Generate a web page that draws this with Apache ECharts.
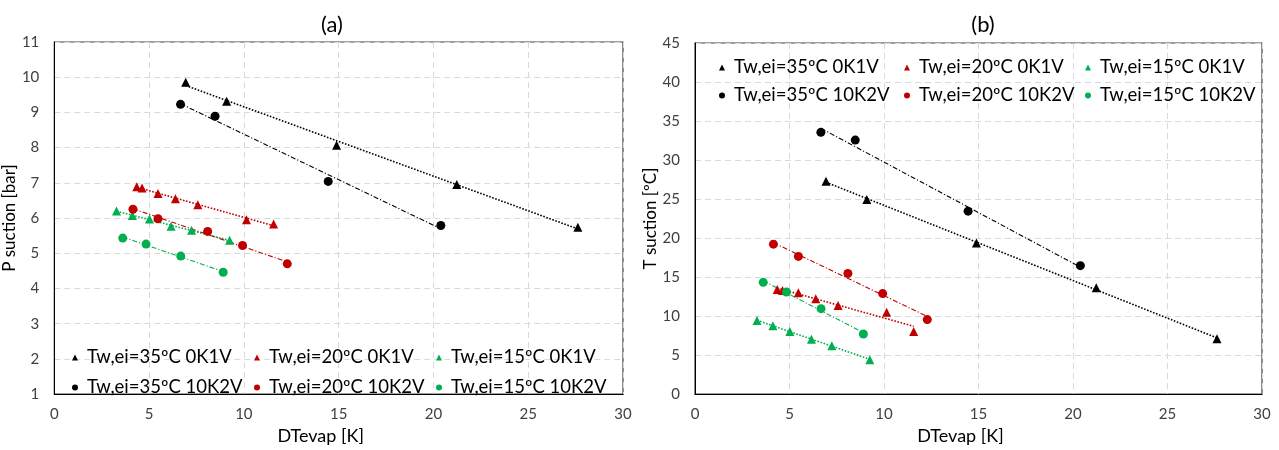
<!DOCTYPE html>
<html>
<head>
<meta charset="utf-8">
<script src="https://cdn.jsdelivr.net/npm/echarts@6/dist/echarts.min.js"></script>
<style>
html,body{margin:0;padding:0;background:#fff;}
#c{width:1279px;height:450px;}
</style>
</head>
<body>
<div id="c"></div>
<script>
// ---------- DATA ----------
const seriesNames = [
  'Tw,ei=35ºC 0K1V', 'Tw,ei=20ºC 0K1V', 'Tw,ei=15ºC 0K1V',
  'Tw,ei=35ºC 10K2V', 'Tw,ei=20ºC 10K2V', 'Tw,ei=15ºC 10K2V'
];
// DTevap [K]
const dt_35_0K1V  = [6.93, 9.09, 14.89, 21.23, 27.62];
const dt_20_0K1V  = [4.35, 4.63, 5.47, 6.39, 7.57, 10.14, 11.57];
const dt_15_0K1V  = [3.28, 4.12, 5.02, 6.16, 7.24, 9.25];
const dt_35_10K2V = [6.66, 8.48, 14.45, 20.39];
const dt_20_10K2V = [4.15, 5.47, 8.09, 9.93, 12.29];
const dt_15_10K2V = [3.61, 4.84, 6.67, 8.91];
// P suction [bar]
const p_35_0K1V  = [9.86, 9.32, 8.07, 6.95, 5.74];
const p_20_0K1V  = [6.89, 6.85, 6.70, 6.55, 6.38, 5.95, 5.83];
const p_15_0K1V  = [6.20, 6.07, 5.97, 5.77, 5.65, 5.37];
const p_35_10K2V = [9.23, 8.89, 7.04, 5.79];
const p_20_10K2V = [6.25, 5.98, 5.62, 5.22, 4.70];
const p_15_10K2V = [5.43, 5.26, 4.92, 4.46];
// T suction [ºC]
const t_35_0K1V  = [27.27, 24.93, 19.38, 13.62, 7.08];
const t_20_0K1V  = [13.40, 13.29, 13.00, 12.22, 11.36, 10.49, 8.02];
const t_15_0K1V  = [9.42, 8.77, 8.02, 7.04, 6.21, 4.40];
const t_35_10K2V = [33.55, 32.56, 23.45, 16.46];
const t_20_10K2V = [19.22, 17.65, 15.47, 12.88, 9.55];
const t_15_10K2V = [14.32, 13.09, 10.95, 7.70];

const xTicks = [0, 5, 10, 15, 20, 25, 30];

// ---------- STYLE ----------
const colors = ['#000000', '#C00000', '#00B050', '#000000', '#C00000', '#00B050'];
const symbols = ['triangle', 'triangle', 'triangle', 'circle', 'circle', 'circle'];
const FONT = 'Lato';

const dtSets = [dt_35_0K1V, dt_20_0K1V, dt_15_0K1V, dt_35_10K2V, dt_20_10K2V, dt_15_10K2V];
const pSets  = [p_35_0K1V, p_20_0K1V, p_15_0K1V, p_35_10K2V, p_20_10K2V, p_15_10K2V];
const tSets  = [t_35_0K1V, t_20_0K1V, t_15_0K1V, t_35_10K2V, t_20_10K2V, t_15_10K2V];

function pairs(xs, ys) { return xs.map((x, i) => [x, ys[i]]); }
// linear least-squares trendline (like Excel's linear trendline)
function trend(xs, ys) {
  const n = xs.length;
  const mx = xs.reduce((a, b) => a + b, 0) / n;
  const my = ys.reduce((a, b) => a + b, 0) / n;
  let sxy = 0, sxx = 0;
  for (let i = 0; i < n; i++) { sxy += (xs[i] - mx) * (ys[i] - my); sxx += (xs[i] - mx) ** 2; }
  const b = sxy / sxx, a = my - b * mx;
  const x0 = Math.min(...xs), x1 = Math.max(...xs);
  return [[x0, a + b * x0], [x1, a + b * x1]];
}

const series = [];
function addChart(idx, ySets) {
  for (let k = 0; k < 6; k++) {
    const tri = symbols[k] === 'triangle';
    series.push({
      name: seriesNames[k] + '#trend' + idx,
      type: 'line', xAxisIndex: idx, yAxisIndex: idx,
      data: trend(dtSets[k], ySets[k]),
      symbol: 'none', silent: true, z: 2,
      lineStyle: { color: colors[k], width: tri ? 1.6 : 1.1, type: tri ? [1.6, 1.6] : [5, 2, 1.2, 2] }
    });
  }
  for (let k = 0; k < 6; k++) {
    series.push({
      name: seriesNames[k], type: 'scatter', xAxisIndex: idx, yAxisIndex: idx,
      data: pairs(dtSets[k], ySets[k]),
      symbol: symbols[k], symbolSize: 9,
      itemStyle: { color: colors[k], opacity: 1 }, z: 3
    });
  }
}
addChart(0, pSets);
addChart(1, tSets);

// legends: 6 per chart, placed in a 3x2 grid
const legends = [];
function addLegends(colX, rowY) {
  for (let k = 0; k < 6; k++) {
    legends.push({
      data: [{ name: seriesNames[k], icon: symbols[k] }],
      left: colX[k % 3], top: rowY[Math.floor(k / 3)],
      itemWidth: 6, itemHeight: 6, itemGap: 0,
      selectedMode: false,
      textStyle: { fontFamily: FONT, fontSize: 18.5, color: '#000', padding: [0, 0, 0, 4] }
    });
  }
}
addLegends([67, 249, 431], [343, 373]);
addLegends([714, 899, 1080], [53, 81]);

const axisLabelStyle = { fontFamily: FONT, fontSize: 15, color: '#404040' };
const splitLine = { show: true, lineStyle: { color: '#d9d9d9', type: [6, 4], width: 1 } };

function xAx(gi) {
  return {
    type: 'value', gridIndex: gi, min: xTicks[0], max: xTicks[xTicks.length - 1], interval: 5,
    name: 'DTevap [K]', nameLocation: 'middle', nameGap: 24,
    nameTextStyle: { fontFamily: FONT, fontSize: 18, color: '#000', padding: [0, 36, 0, 0] },
    axisLine: { show: true, lineStyle: { color: '#000', width: 1 } },
    axisTick: { show: false },
    axisLabel: Object.assign({ margin: 13 }, axisLabelStyle),
    splitLine: splitLine
  };
}
function yAx(gi, min, max, interval, name) {
  return {
    type: 'value', gridIndex: gi, min: min, max: max, interval: interval,
    name: name, nameLocation: 'middle', nameGap: 33,
    nameTextStyle: { fontFamily: FONT, fontSize: 17, color: '#000' },
    axisLine: { show: true, lineStyle: { color: '#000', width: 1 } },
    axisTick: { show: false },
    axisLabel: Object.assign({ margin: 15 }, axisLabelStyle),
    splitLine: splitLine
  };
}

const chart = echarts.init(document.getElementById('c'), null, { renderer: 'canvas' });
chart.setOption({
  backgroundColor: '#fff',
  animation: false,
  title: [
    { text: '(a)', left: 327, top: 20, textAlign: 'center', textVerticalAlign: 'middle',
      textStyle: { fontFamily: FONT, fontSize: 22, fontWeight: 'normal', color: '#000' } },
    { text: '(b)', left: 978, top: 20, textAlign: 'center', textVerticalAlign: 'middle',
      textStyle: { fontFamily: FONT, fontSize: 22, fontWeight: 'normal', color: '#000' } }
  ],
  grid: [
    { left: 54, right: 656, top: 42, bottom: 43, show: true, borderColor: '#404040', borderWidth: 1.2 },
    { left: 695, right: 17, top: 43, bottom: 42, show: true, borderColor: '#404040', borderWidth: 1.2 }
  ],
  xAxis: [xAx(0), xAx(1)],
  yAxis: [yAx(0, 1, 11, 1, 'P suction [bar]'), yAx(1, 0, 45, 5, 'T suction [ºC]')],
  legend: legends,
  series: series
});
</script>
</body>
</html>
